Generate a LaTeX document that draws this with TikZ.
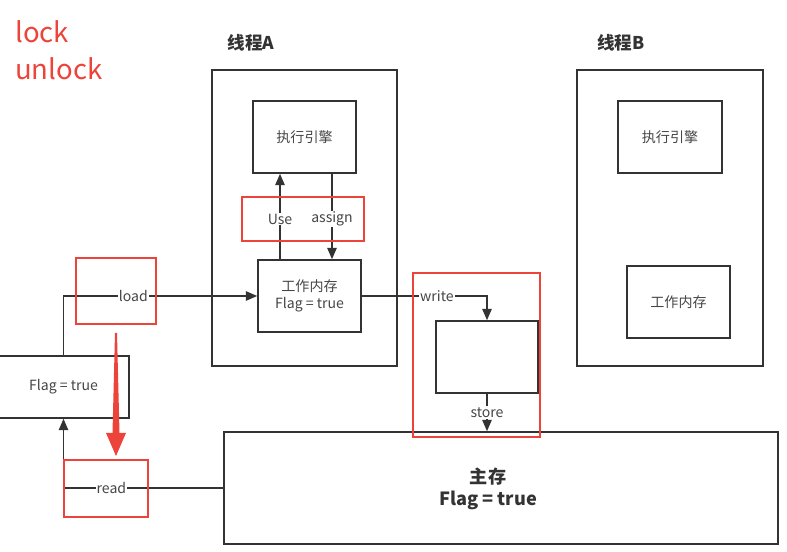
\documentclass[tikz,border=0pt]{standalone}
\usepackage{fontspec}
\setmainfont{Noto Sans CJK SC}
\usetikzlibrary{arrows.meta,positioning}
\definecolor{ink}{RGB}{51,51,51}
\definecolor{txt}{RGB}{70,70,70}
\definecolor{redmark}{RGB}{236,68,58}
\tikzset{
  box/.style={draw=ink,line width=1.3pt,inner sep=0pt,align=center,text=txt,
              font=\fontsize{12}{14.5}\selectfont},
  hl/.style={draw=redmark,line width=2pt,inner sep=0pt},
  flow/.style={-{Triangle[length=3.4mm,width=2.8mm]},line width=1.3pt,draw=ink},
  lbl/.style={fill=white,inner sep=1pt,text=txt,font=\fontsize{12}{14}\selectfont},
  ttl/.style={font=\bfseries\fontsize{15}{18}\selectfont,text=ink},
  note/.style={text=redmark,font=\fontsize{23.5}{28}\selectfont,anchor=base west,inner sep=0pt},
}

\begin{document}
\begin{tikzpicture}[x=0.3mm,y=-0.3mm]
  \useasboundingbox (0,0) rectangle (787,552);

  % notes
  \node[note] (lk)  at (15,43) {lock};
  \node[note] (ulk) at (15,80) {unlock};

  % threads
  \node[ttl] (ttlA) at (251,43) {线程A};
  \node[ttl] (ttlB) at (621,43) {线程B};
  \node[box,minimum width=55.5mm,minimum height=88.8mm] (thrA) at (304.5,218) {};
  \node[box,minimum width=55.8mm,minimum height=88.8mm] (thrB) at (670,218) {};
  \node[box,minimum width=30.9mm,minimum height=21.6mm] (engA) at (304.5,137) {执行引擎};
  \node[box,minimum width=31.2mm,minimum height=21.6mm] (engB) at (670,137) {执行引擎};
  \node[box,minimum width=30.9mm,minimum height=21.6mm] (wmA) at (309.5,296) {工作内存\\Flag = true};
  \node[box,minimum width=30.9mm,minimum height=21.6mm] (wmB) at (678.5,302) {工作内存};

  % memory side
  \node[box,minimum width=39.3mm,minimum height=18.6mm] (flagL) at (63.5,387) {Flag = true};
  \node[box,minimum width=30.6mm,minimum height=21.6mm] (blank) at (487,357) {};
  \node[box,minimum width=166.2mm,minimum height=33.6mm] (mainM) at (501,488) {};
  \node[align=center,text=ink,font=\bfseries\fontsize{15.5}{18.5}\selectfont] (mainTxt) at (488,489) {主存\\Flag = true};

  \coordinate (useX) at (280,0);
  \coordinate (asgX) at (332,0);

  % connectors
  \draw[flow] (wmA.north -| useX) -- node[lbl,pos=0.47]{Use} (engA.south -| useX);
  \draw[flow] (engA.south -| asgX) -- node[lbl,pos=0.53]{assign} (wmA.north -| asgX);
  \draw[flow] (flagL.north) |- node[lbl,pos=0.68]{load} (wmA.west);
  \draw[flow] (mainM.west) -| node[lbl,pos=0.35]{read} (flagL.south);
  \draw[flow] (wmA.east) -| node[lbl,pos=0.3]{write} (blank.north);
  \draw[flow] (blank.south) -- node[lbl]{store} (mainM.north -| blank.south);

  % red marks
  \node[hl,minimum width=36.6mm,minimum height=13.2mm] (rUse)  at (303,219) {};
  \node[hl,minimum width=24mm,minimum height=19.8mm]   (rLoad) at (116,291) {};
  \node[hl,minimum width=25.2mm,minimum height=17.1mm] (rRead) at (106,488.5) {};
  \node[hl,minimum width=38.1mm,minimum height=49.2mm] (rWS)   at (476.5,355) {};
  \fill[redmark] (115,333) -- (117,333) -- (119.5,433) -- (126,433) -- (116,456)
              -- (106,433) -- (112.5,433) -- cycle;
\end{tikzpicture}
\end{document}
